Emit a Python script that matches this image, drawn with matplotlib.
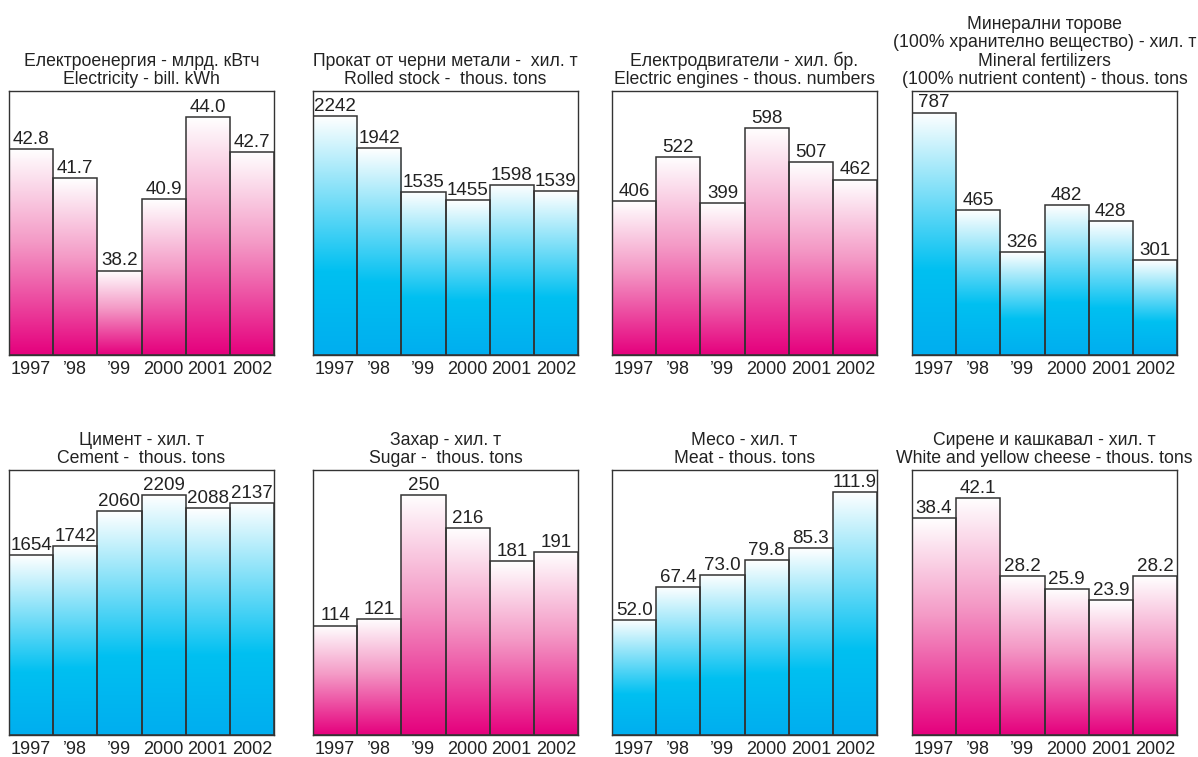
import numpy as np
import matplotlib
matplotlib.use("Agg")
import matplotlib.pyplot as plt
from matplotlib.colors import LinearSegmentedColormap

plt.rcParams['font.family'] = ['Liberation Sans', 'DejaVu Sans']

years = ["1997", "\u201998", "\u201999", "2000", "2001", "2002"]

electricity = [42.8, 41.7, 38.2, 40.9, 44.0, 42.7]
rolled_stock = [2242, 1942, 1535, 1455, 1598, 1539]
engines = [406, 522, 399, 598, 507, 462]
fertilizers = [787, 465, 326, 482, 428, 301]
cement = [1654, 1742, 2060, 2209, 2088, 2137]
sugar = [114, 121, 250, 216, 181, 191]
meat = [52.0, 67.4, 73.0, 79.8, 85.3, 111.9]
cheese = [38.4, 42.1, 28.2, 25.9, 23.9, 28.2]

titles = [
    "Електроенергия - млрд. кВтч\nElectricity - bill. kWh",
    "Прокат от черни метали -  хил. т\nRolled stock -  thous. tons",
    "Електродвигатели - хил. бр.\nElectric engines - thous. numbers",
    "Минерални торове\n(100% хранително вещество) - хил. т\n"
    "Mineral fertilizers\n(100% nutrient content) - thous. tons",
    "Цимент - хил. т\nCement -  thous. tons",
    "Захар - хил. т\nSugar -  thous. tons",
    "Месо - хил. т\nMeat - thous. tons",
    "Сирене и кашкавал - хил. т\nWhite and yellow cheese - thous. tons",
]

# panel: data, y-limits, decimals, colour scheme
panels = [
    (electricity, (35, 45), 1, "pink"),
    (rolled_stock, (0, 2480), 0, "blue"),
    (engines, (0, 695), 0, "pink"),
    (fertilizers, (-12, 858), 0, "blue"),
    (cement, (0, 2440), 0, "blue"),
    (sugar, (0, 276), 0, "pink"),
    (meat, (-2, 122), 1, "blue"),
    (cheese, (0, 47), 1, "pink"),
]

cmaps = {
    "pink": LinearSegmentedColormap.from_list(
        "pk", [(0, "#e5007d"), (0.55, "#f49ac6"), (1, "#ffffff")]),
    "blue": LinearSegmentedColormap.from_list(
        "bl", [(0, "#00aeef"), (0.35, "#00c0f1"), (1, "#ffffff")]),
}

W, H = 1198, 757
fig = plt.figure(figsize=(W / 100, H / 100), dpi=100)

lefts = [9, 313, 612, 912]
rows = [(91, 355), (470, 735)]
grad = np.linspace(0, 1, 256).reshape(-1, 1)

for i, (data, ylim, dec, scheme) in enumerate(panels):
    top, bot = rows[i // 4]
    l = lefts[i % 4]
    ax = fig.add_axes([l / W, 1 - bot / H, 265 / W, (bot - top) / H])
    x = np.arange(len(data))
    lo = ylim[0]
    # bars start at the bottom of the panel (the y-axis is not always at zero)
    bars = ax.bar(x, np.array(data) - lo, bottom=lo, width=1.0,
                  facecolor="none", edgecolor="#333333", linewidth=1.1, zorder=3)
    for b, v in zip(bars, data):
        im = ax.imshow(grad, cmap=cmaps[scheme], origin="lower",
                       extent=[b.get_x(), b.get_x() + b.get_width(), lo, v],
                       aspect="auto", zorder=2, interpolation="bilinear")
        im.set_clip_path(b)
        ax.text(b.get_x() + b.get_width() / 2, v + (ylim[1] - lo) * 0.004,
                f"{v:.{dec}f}", ha="center", va="bottom", fontsize=13.5,
                color="#222222")
    ax.set_xlim(-0.5, len(data) - 0.5)
    ax.set_ylim(*ylim)
    ax.set_yticks([])
    ax.set_xticks(x, years)
    ax.tick_params(axis="x", length=0, pad=4, labelsize=13, labelcolor="#222222")
    for s in ax.spines.values():
        s.set_color("#333333")
        s.set_linewidth(1.0)
    ax.set_title(titles[i], fontsize=12.7, pad=5, linespacing=1.1,
                 color="#222222")

fig.savefig("out.png", dpi=100)
